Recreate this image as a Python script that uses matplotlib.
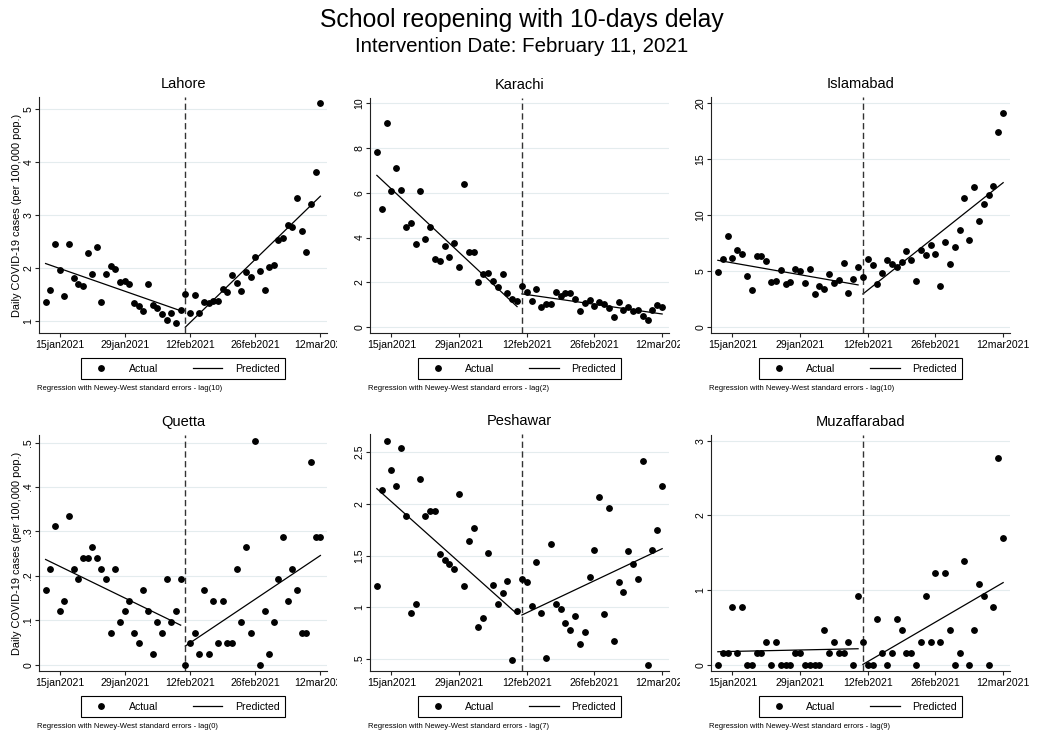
import matplotlib
matplotlib.use("Agg")
import matplotlib.pyplot as plt
import pandas as pd
from matplotlib.lines import Line2D
from matplotlib.transforms import Bbox, TransformedBbox

plt.rcParams['font.family'] = ['Liberation Sans', 'DejaVu Sans']

# daily cases per 100,000, 12 Jan - 12 Mar 2021
dates = pd.date_range("2021-01-12", "2021-03-12", freq="D")
intervention = pd.Timestamp("2021-02-11")

lahore = [1.36, 1.60, 2.45, 1.96, 1.47, 2.46, 1.81, 1.70, 1.66, 2.28,
          1.89, 2.41, 1.36, 1.89, 2.04, 1.99, 1.75, 1.76, 1.70, 1.34,
          1.28, 1.19, 1.70, 1.30, 1.25, 1.13, 1.02, 1.16, 0.97, 1.21,
          1.51, 1.15, 1.50, 1.16, 1.37, 1.34, 1.38, 1.38, 1.61, 1.56,
          1.87, 1.72, 1.57, 1.93, 1.84, 2.22, 1.95, 1.59, 2.03, 2.06,
          2.53, 2.57, 2.82, 2.78, 3.33, 2.71, 2.30, 3.21, 3.82, 5.11]
karachi = [7.84, 5.27, 9.10, 6.10, 7.12, 6.13, 4.49, 4.67, 3.72, 6.07,
           3.93, 4.46, 3.06, 2.93, 3.61, 3.12, 3.75, 2.69, 6.39, 3.37,
           3.37, 2.00, 2.36, 2.40, 2.04, 1.78, 2.36, 1.54, 1.24, 1.15,
           1.84, 1.57, 1.15, 1.70, 0.88, 1.01, 1.04, 1.55, 1.39, 1.51,
           1.51, 1.24, 0.73, 1.06, 1.19, 0.94, 1.12, 1.01, 0.85, 0.43,
           1.10, 0.76, 0.88, 0.73, 0.75, 0.48, 0.30, 0.75, 0.96, 0.88]
islamabad = [4.90, 6.10, 8.10, 6.20, 6.90, 6.50, 4.60, 3.30, 6.30, 6.30,
             5.90, 4.00, 4.15, 5.10, 3.85, 4.00, 5.20, 5.00, 3.95, 5.20,
             2.95, 3.70, 3.40, 4.70, 3.95, 4.20, 5.70, 3.00, 4.30, 5.40,
             4.50, 6.05, 5.57, 3.82, 4.86, 5.96, 5.63, 5.37, 5.78, 6.83,
             5.96, 4.11, 6.86, 6.44, 7.36, 6.50, 3.67, 7.60, 5.66, 7.12,
             8.67, 11.50, 7.81, 12.52, 9.48, 11.03, 11.77, 12.61, 17.47, 19.17]
quetta = [0.168, 0.216, 0.312, 0.120, 0.144, 0.336, 0.216, 0.192, 0.240, 0.240,
          0.264, 0.240, 0.216, 0.192, 0.072, 0.216, 0.096, 0.120, 0.144, 0.072,
          0.048, 0.168, 0.120, 0.024, 0.096, 0.072, 0.192, 0.096, 0.120, 0.192,
          0.000, 0.048, 0.072, 0.024, 0.168, 0.024, 0.144, 0.048, 0.144, 0.048,
          0.048, 0.216, 0.096, 0.264, 0.072, 0.504, 0.000, 0.120, 0.024, 0.096,
          0.192, 0.288, 0.144, 0.216, 0.168, 0.072, 0.072, 0.456, 0.288, 0.288]
peshawar = [1.205, 2.133, 2.606, 2.323, 2.175, 2.542, 1.878, 0.944, 1.028, 2.242,
            1.878, 1.933, 1.933, 1.511, 1.460, 1.418, 1.366, 2.097, 1.205, 1.637,
            1.769, 0.812, 0.893, 1.527, 1.215, 1.028, 1.141, 1.257, 0.487, 0.961,
            1.270, 1.247, 1.015, 1.434, 0.944, 0.513, 1.608, 1.028, 0.986, 0.851,
            0.783, 0.919, 0.648, 0.758, 1.295, 1.553, 2.068, 0.932, 1.959, 0.677,
            1.244, 1.147, 1.540, 1.418, 1.270, 2.416, 0.445, 1.553, 1.743, 2.175]
muzaffarabad = [0.000, 0.154, 0.154, 0.770, 0.154, 0.770, 0.000, 0.000, 0.154, 0.154,
                0.308, 0.000, 0.308, 0.000, 0.000, 0.000, 0.154, 0.154, 0.000, 0.000,
                0.000, 0.000, 0.462, 0.154, 0.308, 0.154, 0.154, 0.308, 0.000, 0.924,
                0.308, 0.000, 0.000, 0.616, 0.154, 0.000, 0.154, 0.616, 0.462, 0.154,
                0.154, 0.000, 0.308, 0.924, 0.308, 1.232, 0.308, 1.232, 0.462, 0.000,
                0.154, 1.386, 0.000, 0.462, 1.078, 0.924, 0.000, 0.770, 2.772, 1.694]

# fitted values at the start / end of each segment
pred_pre = [(2.09, 1.20), (6.78, 0.91), (5.96, 3.76), (0.237, 0.089), (2.146, 0.935), (0.174, 0.214)]
pred_post = [(0.89, 3.36), (1.48, 0.58), (2.95, 12.90), (0.042, 0.246), (0.925, 1.566), (0.004, 1.10)]

cities = ["Lahore", "Karachi", "Islamabad", "Quetta", "Peshawar", "Muzaffarabad"]
series = [lahore, karachi, islamabad, quetta, peshawar, muzaffarabad]
lags = [10, 2, 10, 0, 7, 9]
yticks = [[1, 2, 3, 4, 5], [0, 2, 4, 6, 8, 10], [0, 5, 10, 15, 20],
          [0, .1, .2, .3, .4, .5], [.5, 1, 1.5, 2, 2.5], [0, 1, 2, 3]]
ytick_labels = [["1", "2", "3", "4", "5"], ["0", "2", "4", "6", "8", "10"],
                ["0", "5", "10", "15", "20"], ["0", ".1", ".2", ".3", ".4", ".5"],
                [".5", "1", "1.5", "2", "2.5"], ["0", "1", "2", "3"]]
ylims = [(0.78, 5.23), (-0.27, 10.24), (-0.54, 20.56),
         (-0.0142, 0.5173), (0.384, 2.674), (-0.084, 3.077)]
xtick_dates = pd.to_datetime(["2021-01-15", "2021-01-29", "2021-02-12", "2021-02-26", "2021-03-12"])
xtick_labels = ["15jan2021", "29jan2021", "12feb2021", "26feb2021", "12mar2021"]

W, H = 1043, 732
fig = plt.figure(figsize=(W / 100, H / 100), dpi=100)
fig.patch.set_facecolor("white")

# panel frames in pixels: left, right, top, bottom
frames = [(39, 327, 97, 333), (370, 669, 98, 333), (711, 1010, 97, 333),
          (39, 327, 435, 671), (370, 669, 434, 671), (711, 1010, 435, 671)]
clip_right = [337, 680, W, 337, 680, W]

fig.text(0.5, 1 - 20 / H, "School reopening with 10-days delay", ha="center", va="center", fontsize=17.8)
fig.text(0.5, 1 - 47 / H, "Intervention Date: February 11, 2021", ha="center", va="center", fontsize=14.8)

pre = dates < intervention
post = ~pre
xlo = dates[0] - pd.Timedelta(hours=34)
xhi = dates[-1] + pd.Timedelta(hours=34)

for i, city in enumerate(cities):
    l, r, t, b = frames[i]
    ax = fig.add_axes([l / W, 1 - b / H, (r - l) / W, (b - t) / H])

    ax.set_yticks(yticks[i])
    ax.set_yticklabels(ytick_labels[i], rotation=90, va="center")
    ax.grid(axis="y", color="#e4ecee", lw=0.8)
    ax.set_axisbelow(True)

    ax.plot(dates, series[i], "o", ms=3.9, color="black", zorder=3)
    pre_d = dates[pre]
    post_d = dates[post]
    ax.plot([pre_d[0], pre_d[-1]], pred_pre[i], color="black", lw=0.9, zorder=2)
    ax.plot([post_d[0], post_d[-1]], pred_post[i], color="black", lw=0.9, zorder=2)
    ax.axvline(intervention, color="#333333", lw=1.0, ls=(0, (4.5, 2.5)), zorder=2)

    ax.set_xlim(xlo, xhi)
    ax.set_ylim(*ylims[i])
    ax.set_xticks(xtick_dates)
    ax.set_xticklabels(xtick_labels)

    for s in ["top", "right"]:
        ax.spines[s].set_visible(False)
    for s in ["left", "bottom"]:
        ax.spines[s].set_color("#222222")
        ax.spines[s].set_linewidth(0.8)
    ax.tick_params(length=3, width=0.8, color="#222222", labelsize=7.6, pad=2)
    ax.tick_params(axis="y", pad=1)

    # labels that run past the panel get cut where the next panel starts
    clip = TransformedBbox(Bbox([[0, 0], [clip_right[i] / W, 1]]), fig.transFigure)
    for lab in ax.get_xticklabels():
        lab.set_clip_box(clip)
        lab.set_clip_on(True)

    ax.text(0.5, 1 + 13 / (b - t), city, transform=ax.transAxes, ha="center", va="center", fontsize=10.5)

    if i % 3 == 0:
        ax.set_ylabel("Daily COVID-19 cases (per 100,000 pop.)", fontsize=7.9)
        ax.yaxis.set_label_coords(-(l - 22) / (r - l), 0.5)

    handles = [Line2D([], [], ls="none", marker="o", ms=3.9, color="black"),
               Line2D([], [], color="black", lw=0.9)]
    leg = ax.legend(handles, ["Actual", "Predicted"], ncol=2, loc="upper center",
                    bbox_to_anchor=(0.5, -20 / (b - t)), fontsize=7.6, frameon=True,
                    fancybox=False, edgecolor="black", framealpha=1, borderpad=0.5,
                    handlelength=2.8, handletextpad=1.2, columnspacing=3.3)
    leg.get_frame().set_linewidth(0.8)

    fig.text((l - 2) / W, 1 - (b + 56) / H,
             "Regression with Newey-West standard errors - lag(%d)" % lags[i],
             fontsize=5.5, ha="left", va="center")

fig.savefig("out.png", dpi=100)
